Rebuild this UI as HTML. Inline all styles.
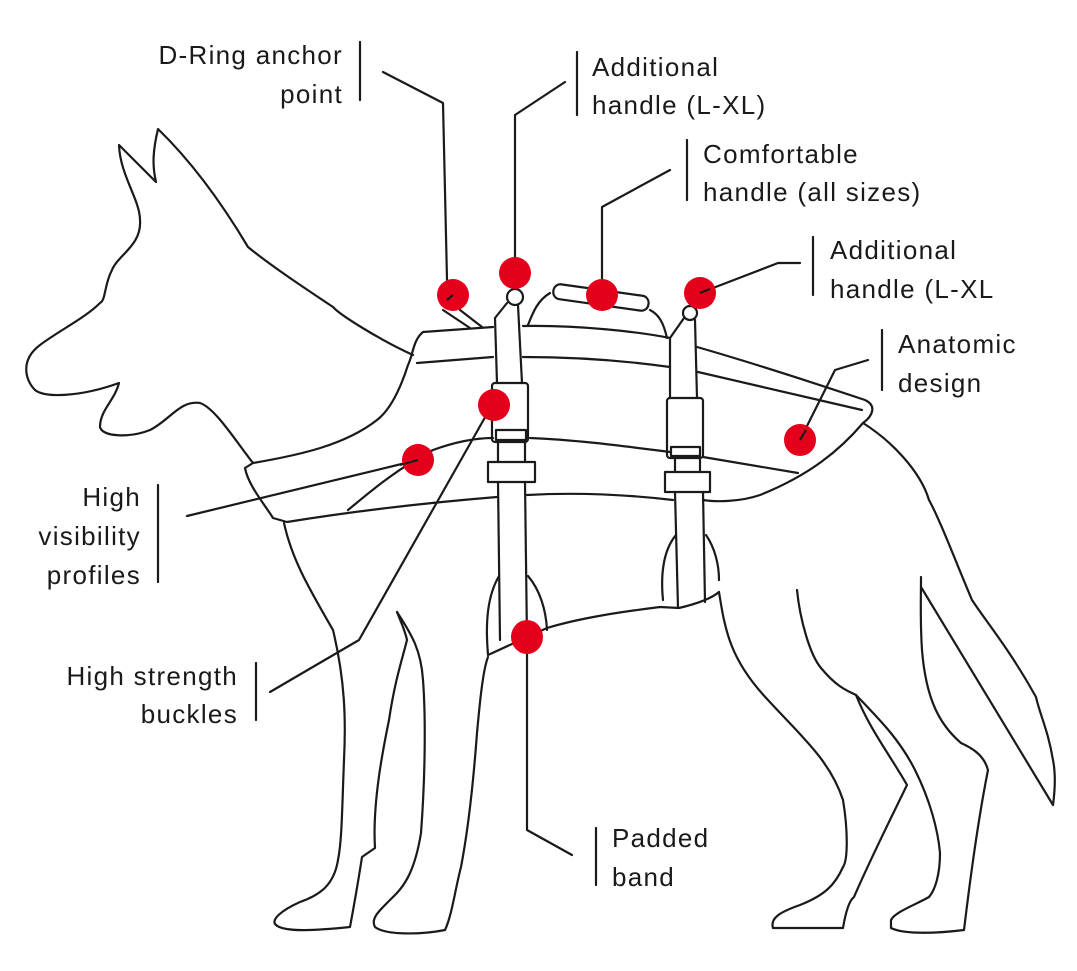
<!DOCTYPE html>
<html><head><meta charset="utf-8"><style>
html,body{margin:0;padding:0;background:#fff}
svg{display:block}
text{font-family:"Liberation Sans",sans-serif;font-size:26px;fill:#1a1a1a;letter-spacing:1.3px}
</style></head><body>
<svg width="1077" height="971" viewBox="0 0 1077 971" xmlns="http://www.w3.org/2000/svg">
<g fill="none" stroke="#1a1a1a" stroke-width="2.2" stroke-linejoin="round" stroke-linecap="round">
<path d="M413,355 C380,340 340,315 333,307 C300,285 270,265 248,247 C220,200 190,160 158,129 C153,150 152,165 156,182 L119,145 C120,175 140,200 140,220 C142,245 118,255 112,270 C104,285 106,300 100,303 C85,318 60,330 40,345 C20,360 25,380 35,390 C45,398 80,397 119,383 C115,400 100,410 100,427 C102,437 130,438 150,430 C170,420 180,400 200,403 C215,408 235,440 253,463"/>
<path d="M423,332 L493,327 M523,326 C580,325 640,332 670,338 M697,347 C760,365 820,385 865,400 C876,405 874,415 863,423 C840,450 810,475 760,495 C740,502 715,502 703,500"/>
<path d="M423,332 C413,340 413,355 408,365 C400,390 390,410 377,420 C345,445 300,455 253,463 L245,468 C248,485 265,505 273,518 L287,522 C330,515 400,505 497,497 M527,495 C580,492 630,495 673,500"/>
<path d="M417,363 L493,357 M523,357 C570,357 620,360 670,367 M698,372 L862,410"/>
<path d="M348,510 C370,492 395,470 433,450 C455,442 475,438 493,438 M530,438 C580,440 630,447 670,452 M703,457 L798,473"/>
<path d="M443,310 L470,328 M460,310 L482,327"/>
<path d="M528,325 C533,312 538,300 550,293 M650,310 C660,315 664,325 667,338"/>
<rect x="553" y="290" width="96" height="15" rx="7" transform="rotate(8 601 297)"/>
<circle cx="515" cy="297" r="8"/>
<path d="M507,303 L495,318 L497,383 M518,305 L522,383"/>
<rect x="492" y="383" width="36" height="59" rx="3"/>
<rect x="496" y="430" width="30" height="10"/>
<rect x="488" y="462" width="47" height="20"/>
<path d="M498,442 L498,462 M525,442 L525,462 M498,482 L500,640 M525,482 L527,640"/>
<circle cx="690" cy="313" r="7"/>
<path d="M684,318 L670,338 L670,398 M695,320 L697,398"/>
<rect x="667" y="398" width="36" height="60" rx="3"/>
<rect x="671" y="447" width="29" height="9"/>
<rect x="665" y="472" width="45" height="20"/>
<path d="M675,458 L675,472 M700,458 L700,472 M675,492 L678,608 M703,492 L705,602"/>
<path d="M488,655 C485,620 488,595 499,576 M528,576 C540,590 546,610 547,630 M488,655 L547,628 C580,618 620,612 660,607 L679,608 C700,603 712,598 719,592"/>
<path d="M663,600 C660,570 665,548 676,535 M706,535 C715,548 719,565 719,580"/>
<path d="M284,523 C292,560 310,590 333,630 C345,680 346,720 344,760 C342,810 342,840 338,860 C334,885 320,895 300,902 C282,910 270,920 276,925 C285,933 320,930 350,927 C355,900 360,870 362,857 L375,848 C372,800 385,740 389,720 C395,680 402,660 407,640 C405,630 400,620 397,612"/>
<path d="M397,612 C412,635 421,650 423,680 C426,720 425,780 421,833 C415,870 405,885 395,895 C380,910 370,918 375,927 C385,935 420,935 445,930 C452,915 455,890 461,867 C470,820 475,760 477,733 C480,700 483,670 488,657"/>
<path d="M719,592 C725,630 730,660 768,700 C800,735 830,760 843,800 C848,830 848,860 843,867 C835,885 825,895 800,905 C780,912 770,918 773,928 L843,928 C846,910 850,900 854,897 C870,860 890,820 907,785 C890,755 870,730 856,695"/>
<path d="M797,590 C800,620 810,655 821,668 C835,685 845,690 856,695 C880,720 900,740 915,770 C930,800 938,830 940,853 C940,875 935,890 929,897 C915,905 895,912 891,920 L891,928 C905,935 940,933 964,930 C970,880 978,820 988,770 C984,755 972,748 961,743 C940,725 926,700 922,650 C920,620 921,600 921,577"/>
<path d="M921,587 L1053,805 C1055,790 1056,775 1053,760 C1048,730 1040,715 1036,697 C1010,650 985,620 972,600 C955,560 940,520 929,500 C920,470 890,440 863,423"/>
<path d="M383,72 L443,103 L447,280 M515,273 L515,115 L565,82 M602,295 L602,207 L670,170 M700,293 L778,263 L800,263 M800,440 L835,370 L868,360 M418,460 L187,516 M492,405 L359,640 L270,692 M527,637 L527,830 L572,855"/>
<path d="M360,42 L360,100 M577,52 L577,115 M687,140 L687,200 M813,237 L813,295 M882,330 L882,390 M158,485 L158,582 M256,663 L256,720 M596,828 L596,885"/>
</g>
<g fill="#e4001b">
<circle cx="453" cy="295" r="16"/><circle cx="515" cy="273" r="16"/><circle cx="602" cy="295" r="16"/><circle cx="700" cy="293" r="16"/><circle cx="494" cy="405" r="16"/><circle cx="418" cy="460" r="16"/><circle cx="800" cy="440" r="16"/><ellipse cx="527" cy="637" rx="16" ry="17"/>
</g>
<g stroke="#1a1a1a" stroke-width="2.2"><path d="M453,295 L447,300 M418,460 L400,465 M800,440 L806,430 M700,293 L710,289"/></g>
<text x="343" y="64" text-anchor="end">D-Ring anchor</text>
<text x="343" y="103" text-anchor="end">point</text>
<text x="592" y="76">Additional</text>
<text x="592" y="114">handle (L-XL)</text>
<text x="703" y="163">Comfortable</text>
<text x="703" y="201">handle (all sizes)</text>
<text x="830" y="259">Additional</text>
<text x="830" y="298">handle (L-XL</text>
<text x="898" y="353">Anatomic</text>
<text x="898" y="392">design</text>
<text x="141" y="506" text-anchor="end">High</text>
<text x="141" y="545" text-anchor="end">visibility</text>
<text x="141" y="584" text-anchor="end">profiles</text>
<text x="238" y="685" text-anchor="end">High strength</text>
<text x="238" y="723" text-anchor="end">buckles</text>
<text x="612" y="847">Padded</text>
<text x="612" y="886">band</text>
</svg>
</body></html>
